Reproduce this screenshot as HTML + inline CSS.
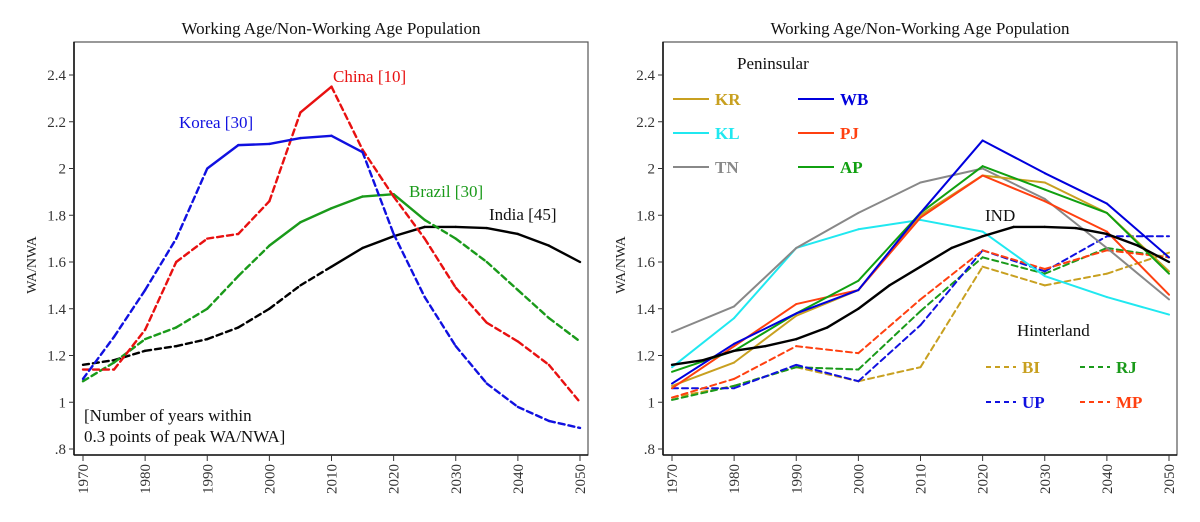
<!DOCTYPE html>
<html><head><meta charset="utf-8"><style>
html,body{margin:0;padding:0;background:#fff;}
svg{display:block;font-family:"Liberation Serif",serif;}
</style></head><body>
<svg id="chart" width="1200" height="522" viewBox="0 0 1200 522"></svg>
<script>
// ---- data ----
const yearsFive = [1970,1975,1980,1985,1990,1995,2000,2005,2010,2015,2020,2025,2030,2035,2040,2045,2050];
const korea  = [1.10,1.28,1.48,1.70,2.00,2.10,2.105,2.13,2.14,2.07,1.72,1.45,1.24,1.08,0.98,0.92,0.89];
const china  = [1.14,1.14,1.31,1.60,1.70,1.72,1.86,2.24,2.35,2.08,1.88,1.70,1.49,1.34,1.26,1.16,1.00];
const brazil = [1.09,1.17,1.27,1.32,1.40,1.54,1.67,1.77,1.83,1.88,1.89,1.78,1.70,1.60,1.48,1.36,1.26];
const india  = [1.16,1.18,1.22,1.24,1.27,1.32,1.40,1.50,1.58,1.66,1.71,1.75,1.75,1.745,1.72,1.67,1.60];
const yearsTen = [1970,1980,1990,2000,2010,2020,2030,2040,2050];
const stKR = [1.07,1.17,1.37,1.48,1.80,1.97,1.94,1.81,1.56];
const stWB = [1.08,1.25,1.38,1.48,1.81,2.12,1.98,1.85,1.62];
const stKL = [1.15,1.36,1.66,1.74,1.78,1.73,1.54,1.45,1.375];
const stPJ = [1.06,1.24,1.42,1.48,1.79,1.97,1.86,1.73,1.46];
const stTN = [1.30,1.41,1.66,1.81,1.94,2.00,1.87,1.66,1.44];
const stAP = [1.13,1.22,1.38,1.52,1.81,2.01,1.91,1.81,1.55];
const stBI = [1.02,1.07,1.15,1.09,1.15,1.58,1.50,1.55,1.64];
const stRJ = [1.01,1.07,1.15,1.14,1.39,1.62,1.55,1.66,1.62];
const stUP = [1.06,1.06,1.16,1.09,1.33,1.65,1.56,1.71,1.71];
const stMP = [1.02,1.10,1.24,1.21,1.44,1.65,1.57,1.65,1.62];
const yTicks = [0.8,1,1.2,1.4,1.6,1.8,2,2.2,2.4];
const yTickLabels = [".8","1","1.2","1.4","1.6","1.8","2","2.2","2.4"];
const xTicks = [1970,1980,1990,2000,2010,2020,2030,2040,2050];

const NS="http://www.w3.org/2000/svg";
const svg=document.getElementById('chart');
function el(tag,attrs,parent){const e=document.createElementNS(NS,tag);for(const k in attrs)e.setAttribute(k,attrs[k]);(parent||svg).appendChild(e);return e;}

function makePanel(x0,name){
  const p={left:x0+74,right:x0+588,top:42,bottom:455,x1970:x0+83,x2050:x0+580};
  p.x=y=>p.x1970+(y-1970)/80*(p.x2050-p.x1970);
  p.y=v=>449-(v-0.8)*233.75;
  const g=el('g',{});
  
  
  const t=el('text',{x:x0+331,y:34,'text-anchor':'middle','font-size':17,fill:'#111'},g);
  t.textContent='Working Age/Non-Working Age Population';
  
  
  const fr=el('rect',{x:p.left,y:p.top,width:p.right-p.left,height:p.bottom-p.top,fill:'none',stroke:'#555','stroke-width':1.2},g);
  
  
  el('line',{x1:p.left,y1:p.top,x2:p.left,y2:p.bottom,stroke:'#111','stroke-width':1.6},g);
  el('line',{x1:p.left,y1:p.bottom,x2:p.right,y2:p.bottom,stroke:'#111','stroke-width':1.6},g);
  yTicks.forEach((v,i)=>{
    el('line',{x1:p.left-5,x2:p.left,y1:p.y(v),y2:p.y(v),stroke:'#333'},g);
    const tl=el('text',{x:p.left-8,y:p.y(v)+5,'text-anchor':'end','font-size':15,fill:'#333'},g);
    tl.textContent=yTickLabels[i];
    
    
  });
  xTicks.forEach(v=>{
    el('line',{x1:p.x(v),x2:p.x(v),y1:p.bottom,y2:p.bottom+6,stroke:'#333'},g);
    const tl=el('text',{x:0,y:0,'text-anchor':'end','font-size':15,fill:'#333',transform:`translate(${p.x(v)+5},${p.bottom+9}) rotate(-90)`},g);
    tl.textContent=v;
    
    
  });
  const yt=el('text',{x:0,y:0,'text-anchor':'middle','font-size':14,fill:'#222',transform:`translate(${x0+36},265) rotate(-90)`},g);
  yt.textContent='WA/NWA';
  
  
  return p;
}
function drawSeries(p,xs,vals,color,solidFrom,solidTo,name,w){
  for(let i=0;i<xs.length-1;i++){
    const solid=i>=solidFrom&&i<solidTo;
    const l=el('line',{x1:p.x(xs[i]),y1:p.y(vals[i]),x2:p.x(xs[i+1]),y2:p.y(vals[i+1]),stroke:color,'stroke-width':w||2.2,'stroke-linecap':'round'});
    if(!solid)l.setAttribute('stroke-dasharray','6 4');
    
    
  }
}
function label(x,y,txt,color,name,size,bold){
  const t=el('text',{x:x,y:y,'font-size':size||17,fill:color,'font-weight':bold?'bold':'normal'});
  t.textContent=txt;
  
  
  return t;
}

// Left panel
const L=makePanel(0,'left-panel');
drawSeries(L,yearsFive,india,'#000',8,16,'india-line',2.4);
drawSeries(L,yearsFive,brazil,'#1a9a1a',6,11,'brazil-line',2.4);
drawSeries(L,yearsFive,china,'#e81010',7,8,'china-line',2.4);
drawSeries(L,yearsFive,korea,'#1010e0',4,9,'korea-line',2.4);
label(333,82,'China [10]','#e81010','china-label');
label(179,128,'Korea [30]','#1010e0','korea-label');
label(409,197,'Brazil [30]','#1a9a1a','brazil-label');
label(489,220,'India [45]','#111','india-label');
label(84,421,'[Number of years within','#111','note-line-1');
label(84,442,'0.3 points of peak WA/NWA]','#111','note-line-2');

// Right panel
const R=makePanel(589,'right-panel');
const stateDefs=[
 [stBI,'#c8a020',false,'bi'],[stRJ,'#1a9a1a',false,'rj'],[stUP,'#1010e0',false,'up'],[stMP,'#ff4010',false,'mp'],
 [stKL,'#20e8f0',true,'kl'],[stTN,'#888888',true,'tn'],[stKR,'#c8a020',true,'kr'],[stPJ,'#ff4010',true,'pj'],[stAP,'#10a010',true,'ap'],[stWB,'#0000dd',true,'wb']];
stateDefs.forEach(d=>drawSeries(R,yearsTen,d[0],d[1],d[2]?0:99,d[2]?99:-1,d[3]+'-line',2));
drawSeries(R,yearsFive,india,'#000',0,99,'ind-line',2.4);
label(985,221,'IND','#111','ind-label');
label(737,69,'Peninsular','#111','peninsular-legend-title');
const legP=[['KR','#c8a020',673,99],['WB','#0000dd',798,99],['KL','#20e8f0',673,133],['PJ','#ff4010',798,133],['TN','#888888',673,167],['AP','#10a010',798,167]];
legP.forEach(d=>{
  const l=el('line',{x1:d[2],x2:d[2]+36,y1:d[3],y2:d[3],stroke:d[1],'stroke-width':2});
  
  
  label(d[2]+42,d[3]+6,d[0],d[1],'legend-entry-'+d[0].toLowerCase(),17,true);
});
label(1017,336,'Hinterland','#111','hinterland-legend-title');
const legH=[['BI','#c8a020',986,367],['RJ','#1a9a1a',1080,367],['UP','#1010e0',986,402],['MP','#ff4010',1080,402]];
legH.forEach(d=>{
  const l=el('line',{x1:d[2],x2:d[2]+30,y1:d[3],y2:d[3],stroke:d[1],'stroke-width':2,'stroke-dasharray':'5 4'});
  
  
  label(d[2]+36,d[3]+6,d[0],d[1],'legend-entry-'+d[0].toLowerCase(),17,true);
});
</script>
</body></html>
